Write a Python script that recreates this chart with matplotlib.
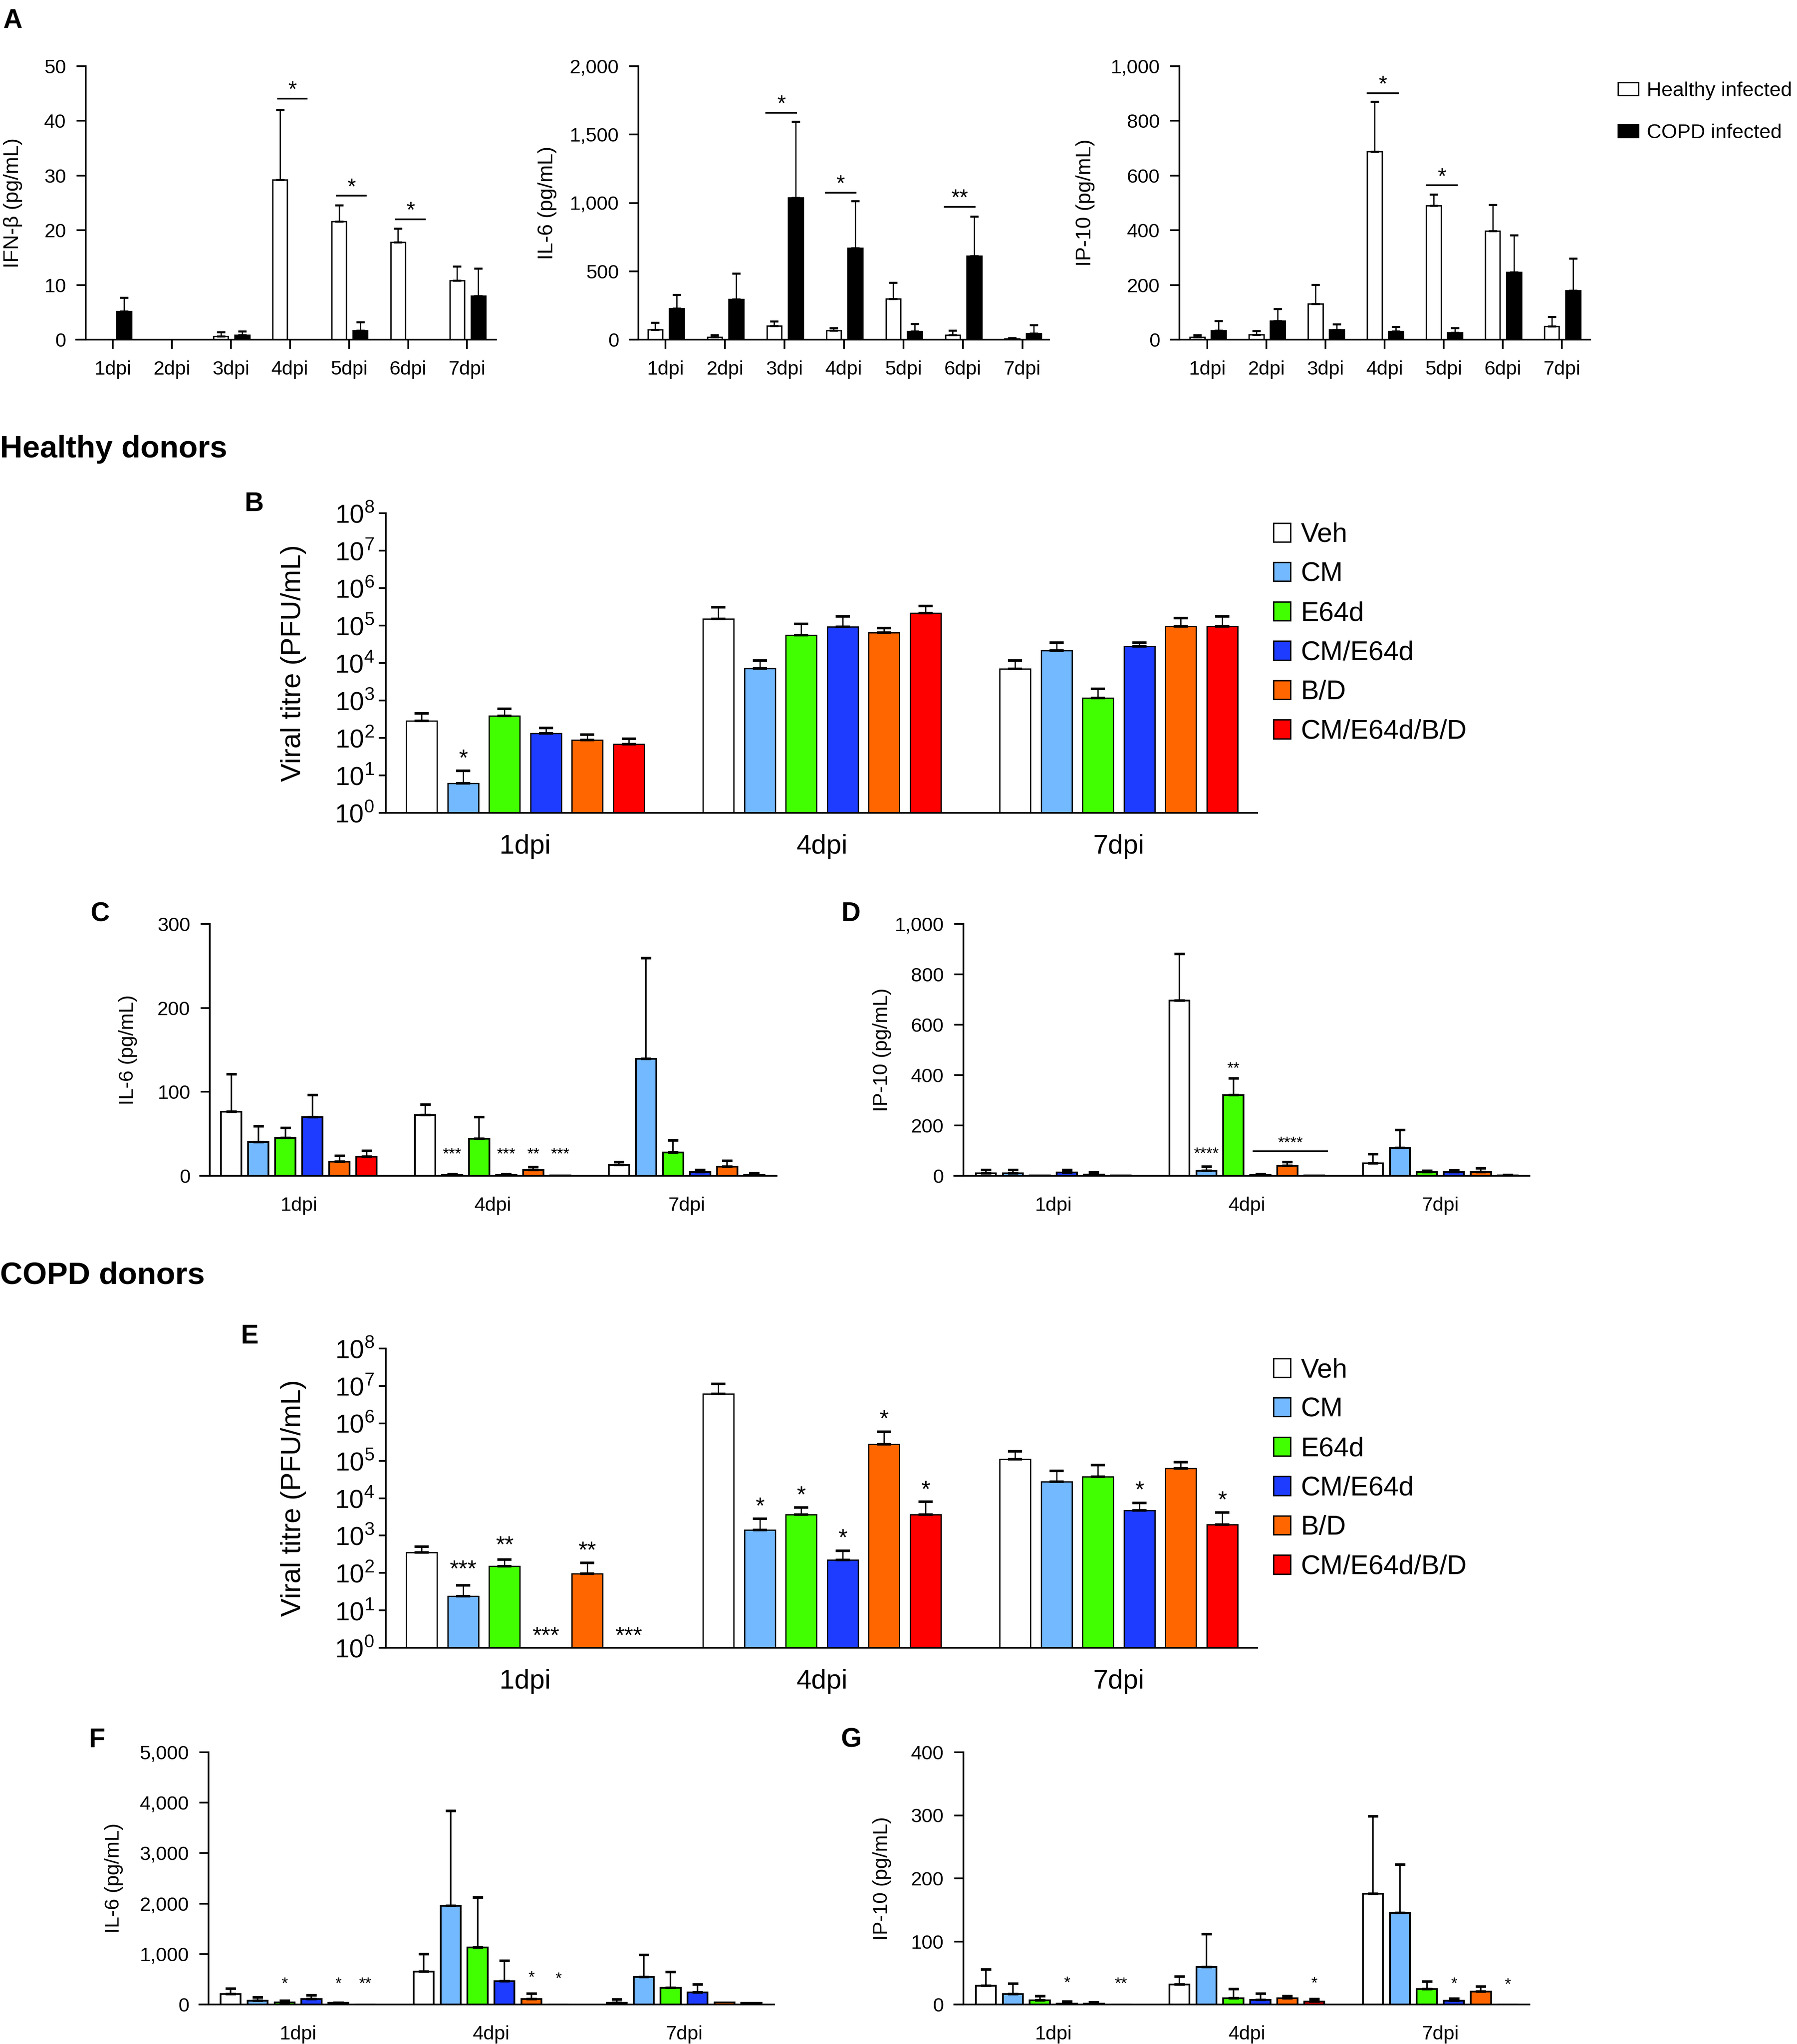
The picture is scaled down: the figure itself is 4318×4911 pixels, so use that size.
import numpy as np
import matplotlib
matplotlib.use("Agg")
import matplotlib.pyplot as plt
import matplotlib.transforms as mtrans
from matplotlib.ticker import FuncFormatter, LogLocator, NullLocator, LogFormatterSciNotation, MultipleLocator
from matplotlib.patches import Patch

plt.rcParams['font.family'] = ['Liberation Sans', 'DejaVu Sans']
plt.rcParams['mathtext.default'] = 'regular'

# ---------------- DATA ----------------
days7 = ['1dpi', '2dpi', '3dpi', '4dpi', '5dpi', '6dpi', '7dpi']
days3 = ['1dpi', '4dpi', '7dpi']
legendA = ['Healthy infected', 'COPD infected']
treatments = ['Veh', 'CM', 'E64d', 'CM/E64d', 'B/D', 'CM/E64d/B/D']
treat_colors = ['#FFFFFF', '#73B9FF', '#41FF00', '#1E3CFF', '#FF6600', '#FF0000']

# Panel A (mean, SEM) healthy vs COPD
ifnb_healthy = [0, 0, 0.6, 29.2, 21.6, 17.8, 10.8]
ifnb_healthy_sem = [0, 0, 0.8, 12.8, 3.0, 2.5, 2.6]
ifnb_copd = [5.2, 0, 0.8, 0, 1.7, 0, 8.0]
ifnb_copd_sem = [2.5, 0, 0.7, 0, 1.5, 0, 5.0]

il6_healthy = [73, 18, 100, 67, 299, 35, 5]
il6_healthy_sem = [53, 17, 35, 19, 118, 32, 8]
il6_copd = [228, 295, 1039, 671, 60, 611, 47]
il6_copd_sem = [100, 188, 556, 343, 55, 290, 59]

ip10_healthy = [9, 18, 131, 688, 490, 398, 48]
ip10_healthy_sem = [8, 14, 70, 182, 41, 95, 36]
ip10_copd = [33, 69, 36, 30, 26, 247, 179]
ip10_copd_sem = [35, 44, 21, 17, 16, 135, 118]

# significance for A: (day index, y, label)
sigA_ifnb = [(3, 44.1, '*'), (4, 26.3, '*'), (5, 22.0, '*')]
sigA_il6 = [(2, 1659, '*'), (3, 1076, '*'), (5, 972, '**')]
sigA_ip10 = [(3, 901, '*'), (4, 564, '*')]

# Panel B: viral titre, healthy donors (rows = treatment, cols = 1/4/7 dpi)
titre_healthy = [
    [288, 1.51e5, 7.03e3],
    [6.1, 7.08e3, 2.15e4],
    [389, 5.58e4, 1.17e3],
    [134, 9.27e4, 2.75e4],
    [88.5, 6.41e4, 9.4e4],
    [68, 2.15e5, 9.4e4],
]
titre_healthy_sem = [
    [159, 1.58e5, 4.6e3],
    [7.3, 4.6e3, 1.37e4],
    [214, 5.6e4, 860],
    [52, 8.1e4, 7.7e3],
    [34.5, 2.1e4, 6.4e4],
    [26, 1.2e5, 8.3e4],
]
sigB = [(0, 1, 42, '*')]

# Panel C: IL-6 healthy
il6_h_treat = [
    [76.5, 72.5, 12.7],
    [40, 1, 139.5],
    [45, 44, 28],
    [70, 1, 4.4],
    [17, 7, 11],
    [23, 0.3, 1.2],
]
il6_h_treat_sem = [
    [44.5, 12.5, 3.8],
    [19, 1, 120],
    [12, 26, 14],
    [26, 1, 2.6],
    [7, 3.5, 7],
    [7, 0, 1.8],
]
sigC = [(1, 1, 31, '***'), (1, 3, 31, '***'), (1, 4, 31, '**'), (1, 5, 31, '***')]

# Panel D: IP-10 healthy
ip10_h_treat = [
    [10.5, 696, 50],
    [10.5, 19.5, 111],
    [1, 320, 14.6],
    [14, 4, 14.6],
    [5.7, 40, 14.6],
    [1, 1, 2.4],
]
ip10_h_treat_sem = [
    [13, 185, 36],
    [13, 17.5, 70],
    [0, 66, 5],
    [9.5, 3, 6.4],
    [8.3, 14, 15.4],
    [0, 0, 0.6],
]
sigD = [(1, 1, 105, '****'), (1, 2, 445, '**')]
sigD_line = (1, 0.03, 0.42, 97, 149, '****')

# Panel E: viral titre, COPD donors
titre_copd = [
    [350, 6.1e6, 1.09e5],
    [24.1, 1.41e3, 2.72e4],
    [150, 3.66e3, 3.78e4],
    [1, 224, 4.7e3],
    [96, 2.73e5, 6.2e4],
    [1, 3.66e3, 1.96e3],
]
titre_copd_sem = [
    [157, 5.1e6, 7.1e4],
    [23, 1.43e3, 2.6e4],
    [77, 1.9e3, 3.9e4],
    [0, 170, 2.8e3],
    [89, 3.2e5, 3.0e4],
    [0, 4.3e3, 2.2e3],
]
sigE = [(0, 1, 186, '***'), (0, 2, 830, '**'), (0, 3, 3.1, '***'), (0, 4, 590, '**'), (0, 5, 3.1, '***'),
        (1, 1, 8900, '*'), (1, 2, 1.8e4, '*'), (1, 3, 1270, '*'), (1, 4, 1.97e6, '*'), (1, 5, 2.5e4, '*'),
        (2, 3, 2.45e4, '*'), (2, 5, 1.33e4, '*')]

# Panel F: IL-6 COPD
il6_c_treat = [
    [205, 653, 29],
    [78, 1956, 546],
    [45, 1134, 333],
    [107, 464, 238],
    [29, 111, 41],
    [4, 4, 33],
]
il6_c_treat_sem = [
    [107, 349, 70],
    [66, 1877, 436],
    [29, 986, 312],
    [74, 399, 160],
    [8, 107, 0],
    [0, 0, 0],
]
sigF = [(0, 2, 501, '*'), (0, 4, 501, '*'), (0, 5, 501, '**'), (1, 4, 624, '*'), (1, 5, 604, '*')]

# Panel G: IP-10 COPD
ip10_c_treat = [
    [29.6, 31.6, 175.8],
    [16.8, 59.5, 145.3],
    [6.6, 10.2, 24.7],
    [1.3, 7.2, 5.9],
    [1.6, 10.2, 20.4],
    [0.3, 4.9, 0.3],
]
ip10_c_treat_sem = [
    [25.9, 12.4, 122.6],
    [16.4, 51.9, 76.6],
    [6.5, 14.5, 11.8],
    [3.0, 10.2, 3.6],
    [1.7, 3.3, 8.2],
    [0, 4.0, 0],
]
sigG = [(0, 3, 41.7, '*'), (0, 5, 40, '**'), (1, 5, 41, '*'), (2, 3, 40, '*'), (2, 5, 39, '*')]

# ---------------- FIGURE ----------------
W, H = 4318, 4911
fig = plt.figure(figsize=(W / 100, H / 100), dpi=100)


def rect(l, r, t, b):
    return [l / W, 1 - b / H, (r - l) / W, (b - t) / H]


comma = FuncFormatter(lambda v, p: f'{v:,.0f}')
LW = 3.0


def base_axes(r, xlim, spine_x, ylabel, ylabel_x, tick_fs, label_fs):
    ax = fig.add_axes(rect(*r))
    for s in ['top', 'right']:
        ax.spines[s].set_visible(False)
    ax.spines['left'].set_position(('data', spine_x))
    ax.spines['left'].set_linewidth(LW)
    ax.spines['bottom'].set_linewidth(LW)
    ax.set_xlim(*xlim)
    ax.set_ylabel(ylabel, fontsize=label_fs, va='center', ha='center')
    tr = mtrans.blended_transform_factory(fig.transFigure, ax.transAxes)
    ax.yaxis.set_label_coords(ylabel_x / W, 0.5, transform=tr)
    ax.tick_params(axis='y', direction='out', length=16, width=LW, labelsize=tick_fs, pad=18)
    return ax


def errs(ax, x, y, e, capsize, lw, capthick):
    x = np.asarray(x, float); y = np.asarray(y, float); e = np.asarray(e, float)
    m = e > 0
    if m.any():
        ax.errorbar(x[m], y[m], yerr=[np.zeros(m.sum()), e[m]], fmt='none', ecolor='k',
                    elinewidth=lw, capsize=capsize, capthick=capthick, zorder=3)


def star(ax, x, y, s, fs):
    ax.annotate(s, (x, y), xytext=(0, -0.57 * fs), textcoords='offset points',
                ha='center', va='baseline', fontsize=fs, annotation_clip=False)


# ---- Panel A ----
A_specs = [
    (ifnb_healthy, ifnb_healthy_sem, ifnb_copd, ifnb_copd_sem, 'IFN-β (pg/mL)', (183, 1192, 159, 816),
     (-0.62, 6.49), -0.458, 31, (0, 50), 10, sigA_ifnb, (-0.22, 0.30)),
    (il6_healthy, il6_healthy_sem, il6_copd, il6_copd_sem, 'IL-6 (pg/mL)', (1513, 2521, 159, 816),
     (-0.60, 6.45), -0.45, 1315, (0, 2000), 500, sigA_il6, (-0.32, 0.21)),
    (ip10_healthy, ip10_healthy_sem, ip10_copd, ip10_copd_sem, 'IP-10 (pg/mL)', (2813, 3821, 159, 816),
     (-0.62, 6.48), -0.47, 2608, (0, 1000), 200, sigA_ip10, (-0.30, 0.24)),
]
for (hv, hs, cv, cs, lab, r, xl, sx, lx, yl, step, sig, span) in A_specs:
    ax = base_axes(r, xl, sx, lab, lx, 34, 36)
    x = np.arange(len(days7))
    ax.bar(x - 0.17, hv, 0.25, color='white', edgecolor='k', linewidth=2.4, zorder=2)
    ax.bar(x + 0.19, cv, 0.25, color='black', edgecolor='k', linewidth=2.4, zorder=2)
    errs(ax, x - 0.17, hv, hs, 7, 2.2, 3.5)
    errs(ax, x + 0.19, cv, cs, 7, 2.2, 3.5)
    ax.set_ylim(*yl)
    ax.yaxis.set_major_locator(MultipleLocator(step))
    ax.yaxis.set_major_formatter(comma)
    ax.set_xticks(x)
    ax.set_xticklabels(days7)
    ax.tick_params(axis='x', direction='out', length=16, width=LW, labelsize=34, pad=20)
    for (d, yv, s) in sig:
        ax.plot([d + span[0], d + span[1]], [yv, yv], color='k', lw=LW, solid_capstyle='butt', clip_on=False)
        ax.annotate(s, (d + (span[0] + span[1]) / 2, yv), xytext=(0, 4), textcoords='offset points',
                    ha='center', va='baseline', fontsize=38, annotation_clip=False)

fig.legend([Patch(facecolor='white', edgecolor='k', lw=2.4), Patch(facecolor='black', edgecolor='k', lw=2.4)],
           legendA, loc='upper left', bbox_to_anchor=(3888 / W, 1 - 196 / H), frameon=False, fontsize=35,
           handlelength=1.0, handleheight=0.6, handletextpad=0.42, labelspacing=1.15, borderpad=0,
           borderaxespad=0)

PITCH = 0.1395
BW = 0.104


def grouped(ax, vals, sems, capsize, elw, cth, blw, log=False):
    for i, (v, e) in enumerate(zip(vals, sems)):
        x = np.arange(3) + (i - 2.5) * PITCH
        v = np.asarray(v, float)
        if log:
            ax.bar(x, v - 1, BW, bottom=1, color=treat_colors[i], edgecolor='k', linewidth=blw, zorder=2)
        else:
            ax.bar(x, v, BW, color=treat_colors[i], edgecolor='k', linewidth=blw, zorder=2)
        errs(ax, x, v, e, capsize, elw, cth)


def log_panel(r, vals, sems, sig):
    ax = base_axes(r, (-0.491, 2.467), -0.47, 'Viral titre (PFU/mL)', 705, 45, 48)
    ax.set_yscale('log')
    grouped(ax, vals, sems, 12, 2.2, 4.5, 2.2, log=True)
    ax.set_ylim(1, 1e8)
    ax.yaxis.set_major_locator(LogLocator(base=10, numticks=20))
    ax.yaxis.set_minor_locator(NullLocator())
    ax.yaxis.set_major_formatter(LogFormatterSciNotation())
    ax.tick_params(axis='y', length=12, pad=8)
    ax.set_xticks(np.arange(3))
    ax.set_xticklabels(days3)
    ax.tick_params(axis='x', length=0, labelsize=47, pad=37)
    for (g, i, yv, s) in sig:
        star(ax, g + (i - 2.5) * PITCH, yv, s, 40)
    fig.legend([Patch(facecolor=c, edgecolor='k', lw=2.4) for c in treat_colors], treatments,
               loc='upper left', bbox_to_anchor=(3060 / W, 1 - (r[2] + 22) / H), frameon=False, fontsize=47,
               handlelength=0.63, handleheight=0.69, handletextpad=0.37, labelspacing=0.53, borderpad=0,
               borderaxespad=0)
    return ax


def lin_panel(r, xl, sx, lab, lx, vals, sems, yl, step, sig):
    ax = base_axes(r, xl, sx, lab, lx, 34, 35)
    grouped(ax, vals, sems, 9, 2.6, 4.5, 3.0)
    ax.set_ylim(*yl)
    ax.yaxis.set_major_locator(MultipleLocator(step))
    ax.yaxis.set_major_formatter(comma)
    ax.set_xticks(np.arange(3))
    ax.set_xticklabels(days3)
    ax.tick_params(axis='x', length=0, labelsize=34, pad=36)
    for (g, i, yv, s) in sig:
        star(ax, g + (i - 2.5) * PITCH, yv, s, 28)
    return ax


# ---- Panel B ----
log_panel((912, 3021, 1233, 1953), titre_healthy, titre_healthy_sem, sigB)
# ---- Panel C ----
lin_panel((481, 1866, 2220, 2825), (-0.509, 2.464), -0.459, 'IL-6 (pg/mL)', 307,
          il6_h_treat, il6_h_treat_sem, (0, 300), 100, sigC)
# ---- Panel D ----
axD = lin_panel((2293, 3675, 2220, 2825), (-0.512, 2.46), -0.465, 'IP-10 (pg/mL)', 2120,
                ip10_h_treat, ip10_h_treat_sem, (0, 1000), 200, sigD)
g, a, b, yl_, ys, s = sigD_line
axD.plot([g + a, g + b], [yl_, yl_], color='k', lw=LW, solid_capstyle='butt')
star(axD, g + (a + b) / 2, ys, s, 28)
# ---- Panel E ----
log_panel((912, 3021, 3240, 3959), titre_copd, titre_copd_sem, sigE)
# ---- Panel F ----
lin_panel((479, 1860, 4210, 4816), (-0.511, 2.466), -0.463, 'IL-6 (pg/mL)', 274,
          il6_c_treat, il6_c_treat_sem, (0, 5000), 1000, sigF)
# ---- Panel G ----
lin_panel((2293, 3675, 4210, 4816), (-0.512, 2.46), -0.465, 'IP-10 (pg/mL)', 2120,
          ip10_c_treat, ip10_c_treat_sem, (0, 400), 100, sigG)

# ---- Panel labels & section titles ----
for lab, (px, py) in {'A': (30, 50), 'B': (611, 1211), 'C': (240, 2197), 'D': (2045, 2196),
                      'E': (600, 3211), 'F': (233, 4181), 'G': (2045, 4181)}.items():
    fig.text(px / W, 1 - py / H, lab, fontsize=46, fontweight='bold', ha='center', va='center')
fig.text(0, 1 - 1080 / H, 'Healthy donors', fontsize=54, fontweight='bold', ha='left', va='center')
fig.text(0, 1 - 3065 / H, 'COPD donors', fontsize=54, fontweight='bold', ha='left', va='center')

fig.savefig('out.png', dpi=100)
